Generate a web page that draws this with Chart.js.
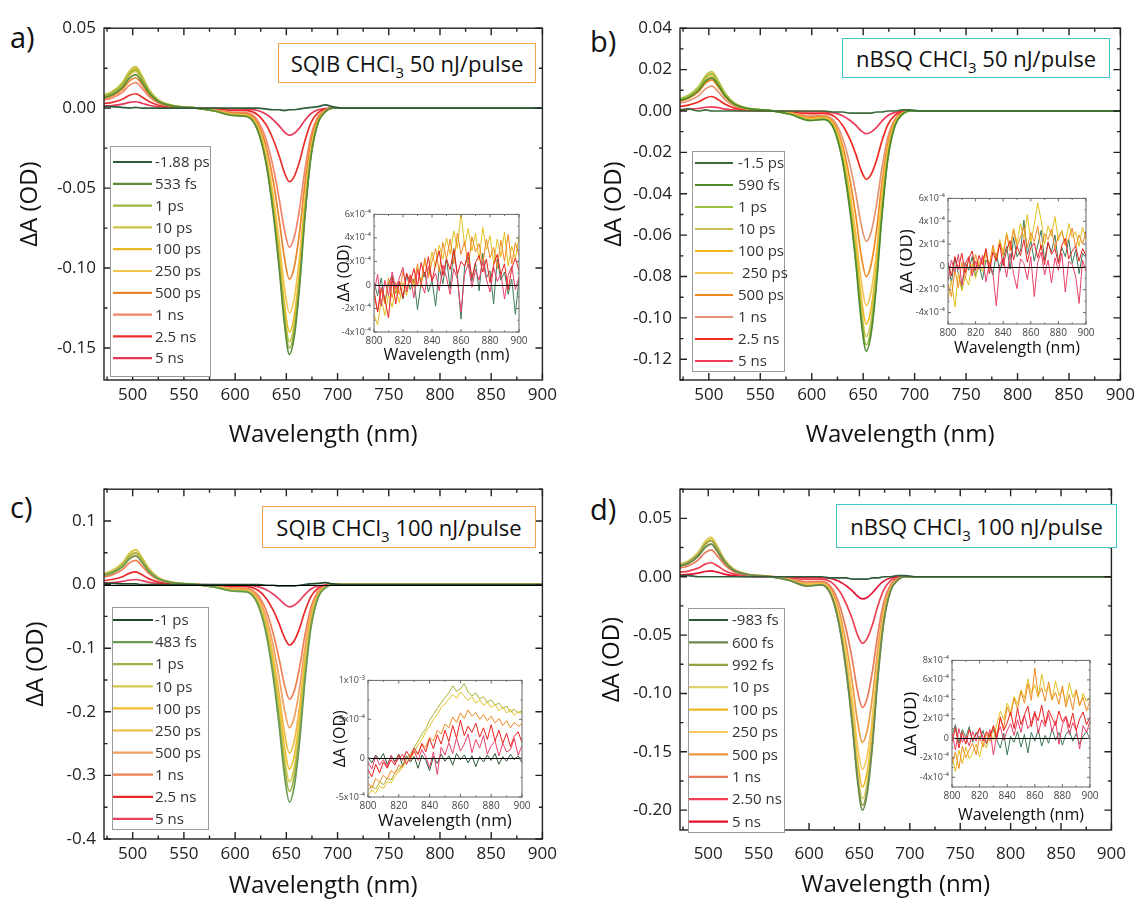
<!DOCTYPE html>
<html>
<head>
<meta charset="utf-8">
<title>Transient absorption spectra</title>
<script src="https://cdn.jsdelivr.net/npm/chart.js"></script>
<style>
  body { margin: 0; background: #fff; font-family: "Open Sans", sans-serif; }
  #fig { position: relative; width: 1140px; height: 903px; overflow: hidden; }
  .pane { position: absolute; }
  .inset { position: absolute; z-index: 2; }
  .tag { position: absolute; font-size: 29px; color: #111; line-height: 1; }
  .note { position: absolute; z-index: 3; background: #fff; font-size: 22px; color: #111;
          display: flex; align-items: center; justify-content: center; white-space: nowrap;
          box-sizing: border-box; }
  .note sub { font-size: 15px; vertical-align: -6px; line-height: 0; }
</style>
</head>
<body>
<div id="fig">
  <div class="tag" style="left:10px;top:22px">a)</div>
  <div class="tag" style="left:590px;top:26px">b)</div>
  <div class="tag" style="left:10px;top:492px">c)</div>
  <div class="tag" style="left:590px;top:494px">d)</div>

  <div class="note" style="left:278px;top:43px;width:258px;height:40px;border:1.5px solid #f0a24e"><span>SQIB CHCl<sub>3</sub> 50 nJ/pulse</span></div>
  <div class="note" style="left:842px;top:38px;width:268px;height:40px;border:1.5px solid #3fc6c6"><span>nBSQ CHCl<sub>3</sub> 50 nJ/pulse</span></div>
  <div class="note" style="left:262px;top:506px;width:274px;height:42px;border:1.5px solid #f0a24e"><span>SQIB CHCl<sub>3</sub> 100 nJ/pulse</span></div>
  <div class="note" style="left:836px;top:504px;width:281px;height:44px;border:1.5px solid #3fc6c6"><span>nBSQ CHCl<sub>3</sub> 100 nJ/pulse</span></div>

  <div class="pane" id="pa"><canvas id="ca"></canvas></div>
  <div class="pane" id="pb"><canvas id="cb"></canvas></div>
  <div class="pane" id="pc"><canvas id="cc"></canvas></div>
  <div class="pane" id="pd"><canvas id="cd"></canvas></div>
  <div class="inset" id="ia"><canvas id="cia"></canvas></div>
  <div class="inset" id="ib"><canvas id="cib"></canvas></div>
  <div class="inset" id="ic"><canvas id="cic"></canvas></div>
  <div class="inset" id="id"><canvas id="cid"></canvas></div>
</div>

<script>
// ---- wavelength grid of the main spectra (nm) ----
const WL = [472, 480, 490, 497, 503, 509, 516, 525, 540, 560,
            580, 598, 612, 622, 630, 637, 643, 648, 653, 658, 663, 668, 674, 681, 688, 695,
            705, 730, 800, 900];

// ---- a) SQIB CHCl3 50 nJ/pulse, dA (OD) ----
const labelsA = ['-1.88 ps', '533 fs', '1 ps', '10 ps', '100 ps', '250 ps', '500 ps', '1 ns', '2.5 ns', '5 ns'];
const colorsA = ['#2f5d3a', '#5c8c3a', '#9db83e', '#cbc444', '#e9b823', '#f2c44c', '#e8862a', '#f2846a', '#e8302c', '#e63757'];
const a_m188ps = [0.001,0.001,0.0005,0,0.0005,0,0,0,0,0, 0,0,0,0,-0.0005,-0.001,-0.001,-0.0015,-0.001,-0.001,-0.0005,0,0.0005,0.001,0.002,0.001, 0,0,0,0];
const a_533fs = [0.0067,0.0084,0.0130,0.0189,0.0210,0.0164,0.0095,0.0042,0.0013,0.0002, -0.0018,-0.0046,-0.0054,-0.0139,-0.0339,-0.0647,-0.1001,-0.1340,-0.154,-0.1417,-0.1109,-0.0693,-0.0308,-0.0092,-0.0023,0, 0,0,0,0];
const a_1ps = [0.0077,0.0096,0.0149,0.0216,0.024,0.0187,0.0108,0.0048,0.0014,0.0002, -0.0018,-0.0045,-0.0053,-0.0135,-0.033,-0.063,-0.0975,-0.1305,-0.150,-0.138,-0.108,-0.0675,-0.030,-0.009,-0.0023,0, 0,0,0,0];
const a_10ps = [0.0083,0.0104,0.0161,0.0234,0.026,0.0203,0.0117,0.0052,0.0016,0.0003, -0.0018,-0.0044,-0.0051,-0.0131,-0.0321,-0.0613,-0.0949,-0.1270,-0.146,-0.1343,-0.1051,-0.0657,-0.0292,-0.0088,-0.0022,0, 0,0,0,0];
const a_100ps = [0.008,0.010,0.0155,0.0225,0.025,0.0195,0.0113,0.005,0.0015,0.0003, -0.0017,-0.0042,-0.0049,-0.0126,-0.0308,-0.0588,-0.091,-0.1218,-0.140,-0.1288,-0.1008,-0.063,-0.028,-0.0084,-0.0021,0, 0,0,0,0];
const a_250ps = [0.0074,0.0092,0.0143,0.0207,0.023,0.0179,0.0104,0.0046,0.0014,0.0002, -0.0015,-0.0038,-0.0045,-0.0115,-0.0282,-0.0538,-0.0832,-0.1114,-0.128,-0.1178,-0.0922,-0.0576,-0.0256,-0.0077,-0.0019,0, 0,0,0,0];
const a_500ps = [0.0061,0.0076,0.0118,0.0171,0.019,0.0148,0.0086,0.0038,0.0011,0.0002, -0.0013,-0.0032,-0.0037,-0.0096,-0.0235,-0.0449,-0.0696,-0.0931,-0.107,-0.0984,-0.077,-0.0482,-0.0214,-0.0064,-0.0016,0, 0,0,0,0];
const a_1ns = [0.0051,0.0064,0.0099,0.0144,0.016,0.0125,0.0072,0.0032,0.001,0.0002, -0.001,-0.0026,-0.003,-0.0078,-0.0191,-0.0365,-0.0566,-0.0757,-0.087,-0.080,-0.0626,-0.0392,-0.0174,-0.0052,-0.0013,0, 0,0,0,0];
const a_2_5ns = [0.0029,0.0036,0.0056,0.0081,0.009,0.007,0.0041,0.0018,0.0005,0.0001, -0.0006,-0.0014,-0.0016,-0.0041,-0.0101,-0.0193,-0.0299,-0.040,-0.046,-0.0423,-0.0331,-0.0207,-0.0092,-0.0028,-0.0007,0, 0,0,0,0];
const a_5ns = [0.0013,0.0016,0.0025,0.0036,0.004,0.0031,0.0018,0.0008,0.0002,0, -0.0002,-0.0005,-0.0006,-0.0015,-0.0037,-0.0071,-0.0111,-0.0148,-0.017,-0.0156,-0.0122,-0.0077,-0.0034,-0.001,-0.0003,0, 0,0,0,0];

// ---- b) nBSQ CHCl3 50 nJ/pulse ----
const labelsB = ['-1.5 ps', '590 fs', '1 ps', '10 ps', '100 ps', ' 250 ps', '500 ps', '1 ns', '2.5 ns', '5 ns'];
const colorsB = ['#3a6b3a', '#4f8a2e', '#9cc040', '#c9c152', '#f0b81c', '#f3c553', '#f08a1e', '#e39470', '#f02a20', '#f03a5a'];
const b_m1_5ps = [0.0005,0.001,0,0.0005,0,0,0,0,0,0, 0,0,0,-0.0005,-0.0005,-0.001,-0.001,-0.001,-0.001,-0.001,-0.0005,-0.0005,0,0,0.0005,0.0005, 0,0,0,0];
const b_590fs = [0.0051,0.0064,0.0099,0.0144,0.016,0.0125,0.0072,0.0032,0.001,0.0002, -0.0017,-0.0046,-0.0041,-0.0093,-0.0244,-0.0476,-0.0742,-0.1009,-0.116,-0.1067,-0.0835,-0.0522,-0.0232,-0.007,-0.0017,0, 0,0,0,0];
const b_1ps = [0.0058,0.0072,0.0112,0.0162,0.018,0.014,0.0081,0.0036,0.0011,0.0002, -0.0017,-0.0045,-0.004,-0.009,-0.0237,-0.0463,-0.0723,-0.0983,-0.113,-0.104,-0.0814,-0.0509,-0.0226,-0.0068,-0.0017,0, 0,0,0,0];
const b_10ps = [0.0061,0.0076,0.0118,0.0171,0.019,0.0148,0.0086,0.0038,0.0011,0.0002, -0.0016,-0.0044,-0.0038,-0.0087,-0.0229,-0.0447,-0.0698,-0.0948,-0.109,-0.1003,-0.0785,-0.0491,-0.0218,-0.0065,-0.0016,0, 0,0,0,0];
const b_100ps = [0.0058,0.0072,0.0112,0.0162,0.018,0.014,0.0081,0.0036,0.0011,0.0002, -0.0015,-0.0041,-0.0036,-0.0082,-0.0216,-0.0422,-0.0659,-0.0896,-0.103,-0.0948,-0.0742,-0.0464,-0.0206,-0.0062,-0.0015,0, 0,0,0,0];
const b_250ps = [0.0054,0.0068,0.0105,0.0153,0.017,0.0133,0.0077,0.0034,0.001,0.0002, -0.0014,-0.0038,-0.0033,-0.0075,-0.0197,-0.0385,-0.0602,-0.0818,-0.094,-0.0865,-0.0677,-0.0423,-0.0188,-0.0056,-0.0014,0, 0,0,0,0];
const b_500ps = [0.0048,0.006,0.0093,0.0135,0.015,0.0117,0.0068,0.003,0.0009,0.0002, -0.0012,-0.0032,-0.0028,-0.0064,-0.0168,-0.0328,-0.0512,-0.0696,-0.080,-0.0736,-0.0576,-0.036,-0.016,-0.0048,-0.0012,0, 0,0,0,0];
const b_1ns = [0.0038,0.0048,0.0074,0.0108,0.012,0.0094,0.0054,0.0024,0.0007,0.0001, -0.0009,-0.0025,-0.0022,-0.005,-0.0132,-0.0258,-0.0403,-0.0548,-0.063,-0.058,-0.0454,-0.0284,-0.0126,-0.0038,-0.0009,0, 0,0,0,0];
const b_2_5ns = [0.0022,0.0028,0.0043,0.0063,0.007,0.0055,0.0032,0.0014,0.0004,0.0001, -0.0005,-0.0013,-0.0012,-0.0026,-0.0069,-0.0135,-0.0211,-0.0287,-0.033,-0.0304,-0.0238,-0.0149,-0.0066,-0.002,-0.0005,0, 0,0,0,0];
const b_5ns = [0.0006,0.0008,0.0012,0.0018,0.002,0.0016,0.0009,0.0004,0.0001,0, -0.0002,-0.0004,-0.0004,-0.0009,-0.0023,-0.0045,-0.007,-0.0096,-0.011,-0.0101,-0.0079,-0.005,-0.0022,-0.0007,-0.0002,0, 0,0,0,0];

// ---- c) SQIB CHCl3 100 nJ/pulse ----
const labelsC = ['-1 ps', '483 fs', '1 ps', '10 ps', '100 ps', '250 ps', '500 ps', '1 ns', '2.5 ns', '5 ns'];
const colorsC = ['#1f4a2a', '#6a9a50', '#a3b34a', '#d4c84a', '#f0c030', '#f0b840', '#f0a060', '#f08050', '#e82a2a', '#e84060'];
const c_m1ps = [0.002,0.002,0.001,0.001,0.001,0,0,0,0,0, 0,0,0,0,-0.001,-0.001,-0.002,-0.002,-0.002,-0.002,-0.001,0,0.001,0.002,0.003,0.001, 0,0,0,0];
const c_483fs = [0.0144,0.018,0.0279,0.0405,0.045,0.0351,0.0203,0.009,0.0027,0.0005, -0.0041,-0.0103,-0.012,-0.0308,-0.0752,-0.1436,-0.2223,-0.2975,-0.342,-0.3146,-0.2462,-0.1539,-0.0684,-0.0205,-0.0051,0, 0,0,0,0];
const c_1ps = [0.016,0.02,0.031,0.045,0.05,0.039,0.0225,0.01,0.003,0.0005, -0.0039,-0.0098,-0.0114,-0.0293,-0.0715,-0.1365,-0.2113,-0.2828,-0.325,-0.299,-0.234,-0.1463,-0.065,-0.0195,-0.0049,0, 0,0,0,0];
const c_10ps = [0.0176,0.022,0.0341,0.0495,0.055,0.0429,0.0248,0.011,0.0033,0.0006, -0.0037,-0.0093,-0.0109,-0.0279,-0.0682,-0.1302,-0.2015,-0.2697,-0.31,-0.2852,-0.2232,-0.1395,-0.062,-0.0186,-0.0047,0, 0,0,0,0];
const c_100ps = [0.0173,0.0216,0.0335,0.0486,0.054,0.0421,0.0243,0.0108,0.0032,0.0005, -0.0035,-0.0087,-0.0102,-0.0261,-0.0638,-0.1218,-0.1885,-0.2523,-0.29,-0.2668,-0.2088,-0.1305,-0.058,-0.0174,-0.0044,0, 0,0,0,0];
const c_250ps = [0.016,0.02,0.031,0.045,0.05,0.039,0.0225,0.01,0.003,0.0005, -0.0032,-0.008,-0.0093,-0.0239,-0.0583,-0.1113,-0.1723,-0.2306,-0.265,-0.2438,-0.1908,-0.1193,-0.053,-0.0159,-0.004,0, 0,0,0,0];
const c_500ps = [0.0147,0.0184,0.0285,0.0414,0.046,0.0359,0.0207,0.0092,0.0028,0.0005, -0.0027,-0.0068,-0.0079,-0.0203,-0.0495,-0.0945,-0.1463,-0.1958,-0.225,-0.207,-0.162,-0.1013,-0.045,-0.0135,-0.0034,0, 0,0,0,0];
const c_1ns = [0.0122,0.0152,0.0236,0.0342,0.038,0.0296,0.0171,0.0076,0.0023,0.0004, -0.0022,-0.0054,-0.0063,-0.0162,-0.0396,-0.0756,-0.117,-0.1566,-0.18,-0.1656,-0.1296,-0.081,-0.036,-0.0108,-0.0027,0, 0,0,0,0];
const c_2_5ns = [0.0064,0.008,0.0124,0.018,0.02,0.0156,0.009,0.004,0.0012,0.0002, -0.0011,-0.0029,-0.0033,-0.0086,-0.0209,-0.0399,-0.0618,-0.0827,-0.095,-0.0874,-0.0684,-0.0428,-0.019,-0.0057,-0.0014,0, 0,0,0,0];
const c_5ns = [0.0026,0.0032,0.005,0.0072,0.008,0.0062,0.0036,0.0016,0.0005,0.0001, -0.0004,-0.0011,-0.0012,-0.0032,-0.0077,-0.0147,-0.0228,-0.0305,-0.035,-0.0322,-0.0252,-0.0158,-0.007,-0.0021,-0.0005,0, 0,0,0,0];

// ---- d) nBSQ CHCl3 100 nJ/pulse ----
const labelsD = ['-983 fs', '600 fs', '992 fs', '10 ps', '100 ps', '250 ps', '500 ps', '1 ns', '2.50 ns', '5 ns'];
const colorsD = ['#2e5a3e', '#6a8a50', '#93a242', '#e0d070', '#f0b820', '#f5c860', '#ec9a40', '#e87a5a', '#ee4050', '#e81030'];
const d_m983fs = [0.001,0.001,0,0,0,0,0,0,0,0, 0,0,0,-0.001,-0.001,-0.001,-0.002,-0.002,-0.002,-0.002,-0.001,-0.001,0,0,0.001,0.001, 0,0,0,0];
const d_600fs = [0.009,0.0112,0.0174,0.0252,0.028,0.0218,0.0126,0.0056,0.0017,0.0003, -0.003,-0.008,-0.007,-0.016,-0.042,-0.082,-0.128,-0.174,-0.2,-0.184,-0.144,-0.09,-0.04,-0.012,-0.003,0, 0,0,0,0];
const d_992fs = [0.0099,0.0124,0.0192,0.0279,0.031,0.0242,0.014,0.0062,0.0019,0.0003, -0.0029,-0.0078,-0.0069,-0.0157,-0.0412,-0.0804,-0.1254,-0.1705,-0.196,-0.1803,-0.1411,-0.0882,-0.0392,-0.0118,-0.0029,0, 0,0,0,0];
const d_10ps = [0.0109,0.0136,0.0211,0.0306,0.034,0.0265,0.0153,0.0068,0.002,0.0003, -0.0029,-0.0076,-0.0067,-0.0152,-0.0399,-0.0779,-0.1216,-0.1653,-0.19,-0.1748,-0.1368,-0.0855,-0.038,-0.0114,-0.0029,0, 0,0,0,0];
const d_100ps = [0.0106,0.0132,0.0205,0.0297,0.033,0.0257,0.0149,0.0066,0.002,0.0003, -0.0027,-0.0072,-0.0063,-0.0144,-0.0378,-0.0738,-0.1152,-0.1566,-0.18,-0.1656,-0.1296,-0.081,-0.036,-0.0108,-0.0027,0, 0,0,0,0];
const d_250ps = [0.0099,0.0124,0.0192,0.0279,0.031,0.0242,0.014,0.0062,0.0019,0.0003, -0.0025,-0.0066,-0.0058,-0.0132,-0.0347,-0.0677,-0.1056,-0.1436,-0.165,-0.1518,-0.1188,-0.0743,-0.033,-0.0099,-0.0025,0, 0,0,0,0];
const d_500ps = [0.009,0.0112,0.0174,0.0252,0.028,0.0218,0.0126,0.0056,0.0017,0.0003, -0.0021,-0.0057,-0.005,-0.0114,-0.0298,-0.0582,-0.0909,-0.1235,-0.142,-0.1306,-0.1022,-0.0639,-0.0284,-0.0085,-0.0021,0, 0,0,0,0];
const d_1ns = [0.0074,0.0092,0.0143,0.0207,0.023,0.0179,0.0104,0.0046,0.0014,0.0002, -0.0017,-0.0045,-0.0039,-0.009,-0.0235,-0.0459,-0.0717,-0.0974,-0.112,-0.103,-0.0806,-0.0504,-0.0224,-0.0067,-0.0017,0, 0,0,0,0];
const d_2_5ns = [0.0038,0.0048,0.0074,0.0108,0.012,0.0094,0.0054,0.0024,0.0007,0.0001, -0.0009,-0.0023,-0.002,-0.0046,-0.012,-0.0234,-0.0365,-0.0496,-0.057,-0.0524,-0.041,-0.0257,-0.0114,-0.0034,-0.0009,0, 0,0,0,0];
const d_5ns = [0.0016,0.002,0.0031,0.0045,0.005,0.0039,0.0023,0.001,0.0003,0.0001, -0.0003,-0.0008,-0.0007,-0.0015,-0.004,-0.0078,-0.0122,-0.0165,-0.019,-0.0175,-0.0137,-0.0086,-0.0038,-0.0011,-0.0003,0, 0,0,0,0];

// ---- insets: 800-900 nm, dA in units of 1e-4 OD ----
const IWL = [800,802.5,805,807.5,810,812.5,815,817.5,820,822.5, 825,827.5,830,832.5,835,837.5,840,842.5,845,847.5,
             850,852.5,855,857.5,860,862.5,865,867.5,870,872.5, 875,877.5,880,882.5,885,887.5,890,892.5,895,897.5,900];

const ia_red = [-0.5,-2.3,-0.2,-1.2,-2.8,0.6,-1.6,0.3,-1.1,1.0, 0.2,1.4,-0.1,1.9,0.7,2.4,0.3,1.8,2.9,0.8, 2.2,1.3,3.0,0.9,2.0,1.6,2.8,0.6,1.9,2.5, 1.1,2.2,0.2,1.7,2.6,0.9,1.8,-0.4,1.4,2.3,1.2];
const ia_pink = [-0.6,0.9,-1.8,0.4,-0.9,1.1,-0.3,0.6,1.5,-0.6, 0.8,-1.1,1.3,0.2,-0.7,1.6,0.4,1.0,-0.5,1.7, 0.6,-0.8,1.4,0.5,-2.3,0.9,1.8,-0.2,1.3,0.4, 2.0,0.5,-0.6,1.5,0.3,1.0,-1.2,0.8,1.6,-0.4,0.7];
const ia_orange = [-1.0,-2.2,-0.4,-1.6,0.6,-1.1,0.2,-0.8,1.2,-0.5, 0.9,0.1,1.8,-0.2,2.3,0.6,2.0,3.1,1.1,3.6, 2.2,3.9,1.8,4.4,2.6,3.7,1.5,4.1,2.8,3.5, 1.7,3.9,2.3,3.2,1.4,3.8,2.0,4.3,1.8,3.6,2.5];
const ia_yellow = [-2.5,-3.4,-1.2,-2.6,-0.8,-1.9,-0.3,-1.5,0.2,-0.9, 0.8,-0.2,1.4,0.3,2.1,0.9,2.8,1.5,3.4,2.2, 4.0,2.6,4.6,3.1,6.2,3.3,4.8,2.9,4.4,2.1, 4.9,3.0,4.2,1.8,3.9,2.4,4.5,1.6,3.3,2.2,4.1];
const ia_green = [0.2,-0.9,0.6,-1.5,0.1,0.8,-0.7,0.3,-1.2,0.9, -0.4,0.5,-2.1,0.2,1.1,-0.6,0.4,-1.8,1.5,0.1, 2.3,-0.3,3.1,0.8,-2.9,1.6,2.4,0.3,1.9,-0.5, 2.7,0.6,1.2,-1.6,2.2,0.4,1.1,-0.8,0.5,-2.5,0.6];

const ib_red = [0.4,-0.8,0.9,-0.2,1.2,-0.5,0.7,1.4,-0.3,1.0, 0.2,1.6,-0.6,1.3,0.5,2.0,0.1,1.5,2.3,0.6, 1.8,1.0,2.4,0.4,1.7,2.1,0.8,1.9,0.2,2.2, 1.1,1.6,0.3,1.9,2.5,0.7,1.4,1.8,0.5,1.6,1.0];
const ib_pink = [-1.2,0.6,-0.4,1.1,-1.6,0.3,0.9,-0.8,0.5,-0.2, 1.0,-1.3,0.4,-0.5,-3.4,0.2,0.8,-0.9,1.2,-0.6, -1.9,0.7,0.3,-1.1,0.9,-2.6,0.4,1.3,-0.7,0.6, -1.4,0.8,-0.3,1.2,-2.2,0.5,0.2,-0.8,-3.2,0.6,-0.4];
const ib_orange = [-1.5,-2.6,-0.3,-1.8,0.4,-1.0,0.8,-0.5,1.1,-0.2, 0.6,1.5,-0.1,1.9,0.7,2.2,1.0,2.8,1.4,3.2, 1.8,2.6,3.5,1.7,3.0,2.2,3.6,1.5,2.9,2.4, 3.3,1.6,2.7,3.1,1.9,2.5,3.4,1.7,2.8,2.0,3.1];
const ib_yellow = [-2.8,-1.2,-3.5,-0.6,-2.1,-0.9,-1.6,0.3,-1.0,0.5, -0.4,1.2,0.2,1.6,0.8,2.4,1.3,3.0,1.6,3.4, 2.1,3.8,2.5,4.6,2.2,3.7,5.6,4.1,2.0,3.6, 2.7,4.4,2.3,3.2,1.9,3.8,2.6,3.1,1.8,3.5,2.4];
const ib_green = [0.3,-1.4,0.8,-0.6,-1.9,0.4,-0.3,0.9,-0.8,0.2, -1.1,0.6,0.1,-0.7,1.2,-0.4,0.7,1.8,-0.2,2.6, 0.9,1.4,4.1,1.1,2.3,0.5,1.9,3.2,0.6,2.1, 1.3,2.8,0.4,1.7,0.9,2.4,0.3,1.5,-0.6,1.2,0.8];

const ic_red = [-1.5,-2.4,-0.8,-1.9,-0.5,-1.3,-0.2,-0.9,0.4,-0.3, 0.9,0.1,1.3,0.5,1.9,0.8,2.5,1.2,3.0,1.8, 3.6,2.1,4.2,2.6,4.9,2.9,4.1,3.3,4.5,2.7, 3.9,2.4,4.3,2.2,3.6,1.9,3.2,1.5,2.8,3.4,2.0];
const ic_pink = [-0.5,-1.4,0.3,-0.9,-0.2,-1.1,0.4,-0.6,-0.1,0.5, -0.8,0.2,0.9,-0.3,1.1,0.2,-1.2,0.8,-2.1,1.4, 0.4,2.0,0.6,2.6,0.9,1.8,3.1,0.7,2.4,1.3, 2.9,0.5,1.6,2.2,0.3,1.9,0.8,1.1,2.5,0.4,1.6];
const ic_orange = [-3.2,-3.9,-2.6,-3.1,-2.2,-2.7,-1.6,-2.0,-0.9,-1.2, 0.1,-0.3,0.9,0.5,1.8,1.4,2.7,2.2,3.6,3.1, 4.4,3.9,5.3,4.6,5.8,5.1,6.2,5.4,5.9,5.0, 5.6,4.8,5.4,4.5,5.1,4.2,4.8,3.9,4.6,4.1,4.4];
const ic_yellow = [-4.8,-4.1,-4.5,-3.6,-3.9,-3.0,-3.2,-2.3,-1.8,-1.1, -0.6,0.2,0.8,1.7,2.4,3.4,4.1,5.0,5.6,6.5, 7.0,7.6,8.2,7.7,8.5,8.0,7.4,7.9,7.1,7.5, 6.8,7.2,6.5,6.9,6.1,6.6,5.8,6.3,5.5,6.0,5.7];
const ic_olive = [-4.2,-3.5,-4.0,-3.1,-3.4,-2.6,-2.8,-1.9,-1.5,-0.8, -0.2,0.5,1.4,2.2,3.1,3.8,4.9,5.6,6.4,7.1, 7.8,8.4,9.3,8.6,8.9,9.6,8.5,8.0,8.4,7.6, 7.9,7.2,7.5,6.8,7.1,6.4,6.7,5.9,6.3,5.8,6.1];
const ic_green = [0.1,-0.6,0.4,-0.2,0.6,-0.8,0.2,-0.4,0.5,-1.0, 0.3,-0.5,0.2,-1.3,0.4,-0.3,-1.6,0.2,-0.7,0.5, -0.4,0.3,-0.9,0.6,-0.2,0.4,-0.6,0.3,-1.1,0.2, -0.5,0.4,-0.3,0.6,-0.8,0.2,-0.4,0.5,-0.2,0.3,-0.6];

const id_red = [-0.4,1.1,-1.0,0.6,-0.6,0.9,-0.2,0.4,1.0,-0.3, 0.7,0.2,1.3,-0.1,2.2,0.8,1.6,2.7,1.0,3.1, 1.4,2.4,3.3,1.2,2.6,1.8,3.4,1.5,2.9,2.1, 1.3,2.8,1.7,2.3,1.1,2.6,0.8,2.0,2.7,1.4,2.2];
const id_pink = [0.6,-1.2,1.0,-0.4,0.2,-0.8,0.7,-0.3,1.1,0.1, -0.5,0.9,-1.7,0.4,1.2,-0.2,0.8,1.5,0.3,1.9, 0.6,2.4,1.0,1.6,2.8,0.5,1.9,1.2,2.5,0.7, 1.8,-0.6,1.4,2.1,0.4,1.6,0.9,-1.1,1.3,0.6,1.8];
const id_orange = [-2.6,-1.4,-3.1,-0.8,-2.0,-1.2,-0.5,-1.7,0.2,-0.9, 0.5,-0.3,1.2,0.4,2.0,1.1,3.2,2.3,4.1,3.0, 4.8,3.6,5.6,3.9,7.2,4.4,5.2,3.8,5.8,4.0, 4.7,3.5,5.4,3.2,4.5,2.9,5.0,3.4,4.2,2.8,3.9];
const id_yellow = [-1.8,-3.4,-1.2,-2.6,-0.9,-2.1,-1.5,-0.6,-1.9,-0.4, -1.0,0.6,-0.2,1.5,2.8,1.9,3.6,2.7,4.3,3.5, 5.0,4.1,6.1,4.6,5.5,4.2,6.6,4.8,5.3,3.9, 5.9,4.4,5.0,3.6,5.7,4.2,4.9,3.3,4.6,3.8,4.3];
const id_green = [0.3,1.4,-0.5,0.9,0.1,1.2,-0.4,0.6,-0.1,0.8, -0.6,0.3,0.9,-0.2,-1.0,0.5,-1.7,0.2,-0.4,0.7, -0.9,0.4,-1.5,0.6,-0.3,0.9,-0.8,0.3,-0.5,1.0, -0.2,0.6,-0.7,0.4,0.8,-0.3,0.5,-0.6,0.2,0.7,-0.1];

const insetColors = { red: '#e8221e', pink: '#e8406a', orange: '#f08a22', yellow: '#e2c020', olive: '#a9b232', green: '#3f7a5a' };

// ---- plugins ----
// box frame with inward major/minor ticks on all four sides, optional black zero line
const frame = {
  id: 'frame',
  afterDatasetsDraw(chart, args, o) {
    const { ctx, chartArea: a, scales: { x, y } } = chart;
    ctx.save();
    if (o.zero) {
      const py = Math.round(y.getPixelForValue(0)) + 0.5;
      ctx.strokeStyle = '#000'; ctx.lineWidth = 1.2;
      ctx.beginPath(); ctx.moveTo(a.left, py); ctx.lineTo(a.right, py); ctx.stroke();
    }
    ctx.strokeStyle = o.color; ctx.lineWidth = o.width;
    ctx.strokeRect(a.left, a.top, a.right - a.left, a.bottom - a.top);
    const marks = (scale, major, n, horiz) => {
      const minor = major / n;
      const i0 = Math.ceil(scale.min / minor - 1e-6), i1 = Math.floor(scale.max / minor + 1e-6);
      for (let i = i0; i <= i1; i++) {
        const len = (i % n === 0) ? o.major : o.minor;
        const p = scale.getPixelForValue(i * minor);
        ctx.beginPath();
        if (horiz) {
          ctx.moveTo(p, a.bottom); ctx.lineTo(p, a.bottom - len);
          ctx.moveTo(p, a.top); ctx.lineTo(p, a.top + len);
        } else {
          ctx.moveTo(a.left, p); ctx.lineTo(a.left + len, p);
          ctx.moveTo(a.right, p); ctx.lineTo(a.right - len, p);
        }
        ctx.stroke();
      }
    };
    marks(x, o.xStep, 2, true);
    marks(y, o.yStep, o.yMinor || 2, false);
    ctx.restore();
  }
};

// framed legend placed inside the plot
const boxLegend = {
  id: 'boxLegend',
  afterDraw(chart, args, o) {
    if (!o.box) return;
    const ctx = chart.ctx;
    const host = chart.canvas.parentNode;
    const ox = host.offsetLeft, oy = host.offsetTop;
    const [bx, by, bw, bh] = o.box;
    ctx.save();
    ctx.fillStyle = '#fff';
    ctx.fillRect(bx - ox, by - oy, bw, bh);
    ctx.strokeStyle = '#9a9a9a'; ctx.lineWidth = 1;
    ctx.strokeRect(bx - ox + 0.5, by - oy + 0.5, bw, bh);
    ctx.font = '15px "Open Sans"';
    ctx.textBaseline = 'middle';
    chart.data.datasets.forEach((ds, i) => {
      const yy = o.y0 + i * o.gap - oy;
      ctx.strokeStyle = ds.borderColor; ctx.lineWidth = 2.2;
      ctx.beginPath(); ctx.moveTo(o.lx[0] - ox, yy); ctx.lineTo(o.lx[1] - ox, yy); ctx.stroke();
      ctx.fillStyle = '#333';
      ctx.fillText(ds.label, o.tx - ox, yy + 1);
    });
    ctx.restore();
  }
};

// ---- helpers ----
function series(xs, ys, labels, colors, width, smooth) {
  return ys.map((arr, i) => ({
    label: labels[i],
    data: arr.map((v, k) => ({ x: xs[k], y: v })),
    borderColor: colors[i],
    borderWidth: width,
    pointRadius: 0,
    fill: false,
    tension: smooth ? 0.4 : 0,
    cubicInterpolationMode: smooth ? 'monotone' : 'default'
  }));
}

function build(hostId, canvasId, area, g, datasets) {
  const host = document.getElementById(hostId);
  const left = area.l - g.yw, top = area.t - g.pt;
  const w = area.r + g.pr - left, h = area.b + g.xh - top;
  Object.assign(host.style, { left: left + 'px', top: top + 'px', width: w + 'px', height: h + 'px' });
  const yPad = (g.yTitleX - left) - g.yTitleSize * 0.6;
  const xPad = (top + h) - g.xTitleY - g.xTitleSize * 0.6;
  return new Chart(document.getElementById(canvasId), {
    type: 'line',
    data: { datasets },
    options: {
      animation: false,
      responsive: true,
      maintainAspectRatio: false,
      layout: { padding: { top: g.pt, right: g.pr, left: 0, bottom: 0 } },
      plugins: {
        legend: { display: false },
        tooltip: { enabled: false },
        frame: { color: g.frameColor, width: g.frameWidth, major: g.tickLen, minor: g.tickLen / 2,
                 xStep: g.xStep, yStep: g.yStep, yMinor: g.yMinor, zero: g.zero },
        boxLegend: g.legend || {}
      },
      scales: {
        x: {
          type: 'linear', min: g.xMin, max: g.xMax,
          grid: { display: false, drawTicks: false }, border: { display: false },
          ticks: { stepSize: g.xStep, includeBounds: false, autoSkip: false, maxRotation: 0,
                   padding: g.xTickPad, color: g.tickColor, font: { family: 'Open Sans', size: g.xTickSize } },
          title: { display: true, text: 'Wavelength (nm)', color: '#111',
                   font: { family: 'Open Sans', size: g.xTitleSize }, padding: { top: xPad, bottom: 0 } },
          afterFit: s => { s.height = g.xh; }
        },
        y: {
          min: g.yMin, max: g.yMax,
          grid: { display: false, drawTicks: false }, border: { display: false },
          ticks: { stepSize: g.yStep, includeBounds: false, autoSkip: false, padding: g.yTickPad,
                   color: g.tickColor, font: { family: 'Open Sans', size: g.yTickSize }, callback: g.yFmt },
          title: { display: true, text: '\u0394A (OD)', color: '#111',
                   font: { family: 'Open Sans', size: g.yTitleSize }, padding: { top: yPad, bottom: 0 } },
          afterFit: s => { s.width = g.yw; }
        }
      }
    },
    plugins: [frame, boxLegend]
  });
}

const mainBase = { pt: 12, pr: 18, xh: 70, xMin: 472, xMax: 900, xStep: 50, tickLen: 7,
                   frameColor: '#222', frameWidth: 1.4, tickColor: '#222',
                   xTickSize: 17, yTickSize: 17, xTickPad: 5, yTickPad: 8,
                   xTitleSize: 24, yTitleSize: 24 };
const insetBase = { pt: 6, pr: 12, xMin: 800, xMax: 900, xStep: 20, tickLen: 3,
                    frameColor: '#666', frameWidth: 1, tickColor: '#444', zero: true,
                    xTickSize: 10, yTickSize: 9, xTickPad: 3, yTickPad: 3,
                    xTitleSize: 16, yTitleSize: 16 };
const sup4 = 'x10\u207B\u2074', sup3 = 'x10\u207B\u00B3';
const fmt4 = v => (v === 0 ? '0' : v + sup4);
const fmtC = v => (v === 0 ? '0' : v === 10 ? '1' + sup3 : v + sup4);

// ---- main panels ----
build('pa', 'ca', { l: 104, t: 22, r: 544, b: 380 },
  Object.assign({}, mainBase, { yw: 104, yTitleX: 30, xTitleY: 432, yMin: -0.17, yMax: 0.05, yStep: 0.05,
    yFmt: v => v.toFixed(2),
    legend: { box: [110, 146, 100, 230], y0: 162, gap: 21.8, lx: [113, 152], tx: 155 } }),
  series(WL, [a_m188ps, a_533fs, a_1ps, a_10ps, a_100ps, a_250ps, a_500ps, a_1ns, a_2_5ns, a_5ns], labelsA, colorsA, 1.7, true));

build('pb', 'cb', { l: 680, t: 22, r: 1122, b: 380 },
  Object.assign({}, mainBase, { yw: 110, yTitleX: 614, xTitleY: 432, yMin: -0.13, yMax: 0.04, yStep: 0.02,
    yFmt: v => v.toFixed(2),
    legend: { box: [692, 151, 92, 220], y0: 163, gap: 22, lx: [695, 733], tx: 738 } }),
  series(WL, [b_m1_5ps, b_590fs, b_1ps, b_10ps, b_100ps, b_250ps, b_500ps, b_1ns, b_2_5ns, b_5ns], labelsB, colorsB, 1.7, true));

build('pc', 'cc', { l: 104, t: 483, r: 544, b: 839 },
  Object.assign({}, mainBase, { yw: 104, xh: 62, yTitleX: 36, xTitleY: 887, yMin: -0.4, yMax: 0.15, yStep: 0.1,
    yFmt: v => v.toFixed(1), zero: true,
    legend: { box: [112, 607, 96, 222], y0: 620, gap: 22.1, lx: [113, 153], tx: 155 } }),
  series(WL, [c_m1ps, c_483fs, c_1ps, c_10ps, c_100ps, c_250ps, c_500ps, c_1ns, c_2_5ns, c_5ns], labelsC, colorsC, 1.7, true));

build('pd', 'cd', { l: 680, t: 483, r: 1122, b: 830 },
  Object.assign({}, mainBase, { yw: 110, xTickPad: 14, yTitleX: 612, xTitleY: 887, yMin: -0.217, yMax: 0.075, yStep: 0.05,
    yFmt: v => v.toFixed(2),
    legend: { box: [688, 608, 96, 224], y0: 620, gap: 22.4, lx: [689, 728], tx: 732 } }),
  series(WL, [d_m983fs, d_600fs, d_992fs, d_10ps, d_100ps, d_250ps, d_500ps, d_1ns, d_2_5ns, d_5ns], labelsD, colorsD, 1.7, true));

// ---- insets ----
const ic = insetColors;
build('ia', 'cia', { l: 374, t: 212, r: 519, b: 332 },
  Object.assign({}, insetBase, { yw: 44, xh: 33, yTitleX: 344, xTitleY: 355, yMin: -4, yMax: 6, yStep: 2, yFmt: fmt4 }),
  series(IWL, [ia_red, ia_pink, ia_orange, ia_yellow, ia_green], ['', '', '', '', ''],
         [ic.red, ic.pink, ic.orange, ic.yellow, ic.green], 1, false));

build('ib', 'cib', { l: 948, t: 196, r: 1086, b: 324 },
  Object.assign({}, insetBase, { yw: 48, xh: 34, yTitleX: 907, yTitleSize: 18, xTitleY: 349, yMin: -5, yMax: 6, yStep: 2, yFmt: fmt4 }),
  series(IWL, [ib_red, ib_pink, ib_orange, ib_yellow, ib_green], ['', '', '', '', ''],
         [ic.red, ic.pink, ic.orange, ic.yellow, ic.green], 1, false));

build('ic', 'cic', { l: 368, t: 678, r: 522, b: 797 },
  Object.assign({}, insetBase, { yw: 44, xh: 34, yTitleX: 340, xTitleY: 821, xTitleSize: 17, yMin: -5, yMax: 10, yStep: 5, yFmt: fmtC }),
  series(IWL, [ic_red, ic_pink, ic_orange, ic_yellow, ic_olive, ic_green], ['', '', '', '', '', ''],
         [ic.red, ic.pink, ic.orange, ic.yellow, ic.olive, '#2f5a3a'], 1, false));

build('id', 'cid', { l: 952, t: 658, r: 1090, b: 787 },
  Object.assign({}, insetBase, { yw: 48, xh: 38, yTitleX: 911, yTitleSize: 18, xTitleY: 815, yMin: -5, yMax: 8, yStep: 2, yFmt: fmt4 }),
  series(IWL, [id_red, id_pink, id_orange, id_yellow, id_green], ['', '', '', '', ''],
         [ic.red, ic.pink, ic.orange, ic.yellow, ic.green], 1, false));
</script>
</body>
</html>
